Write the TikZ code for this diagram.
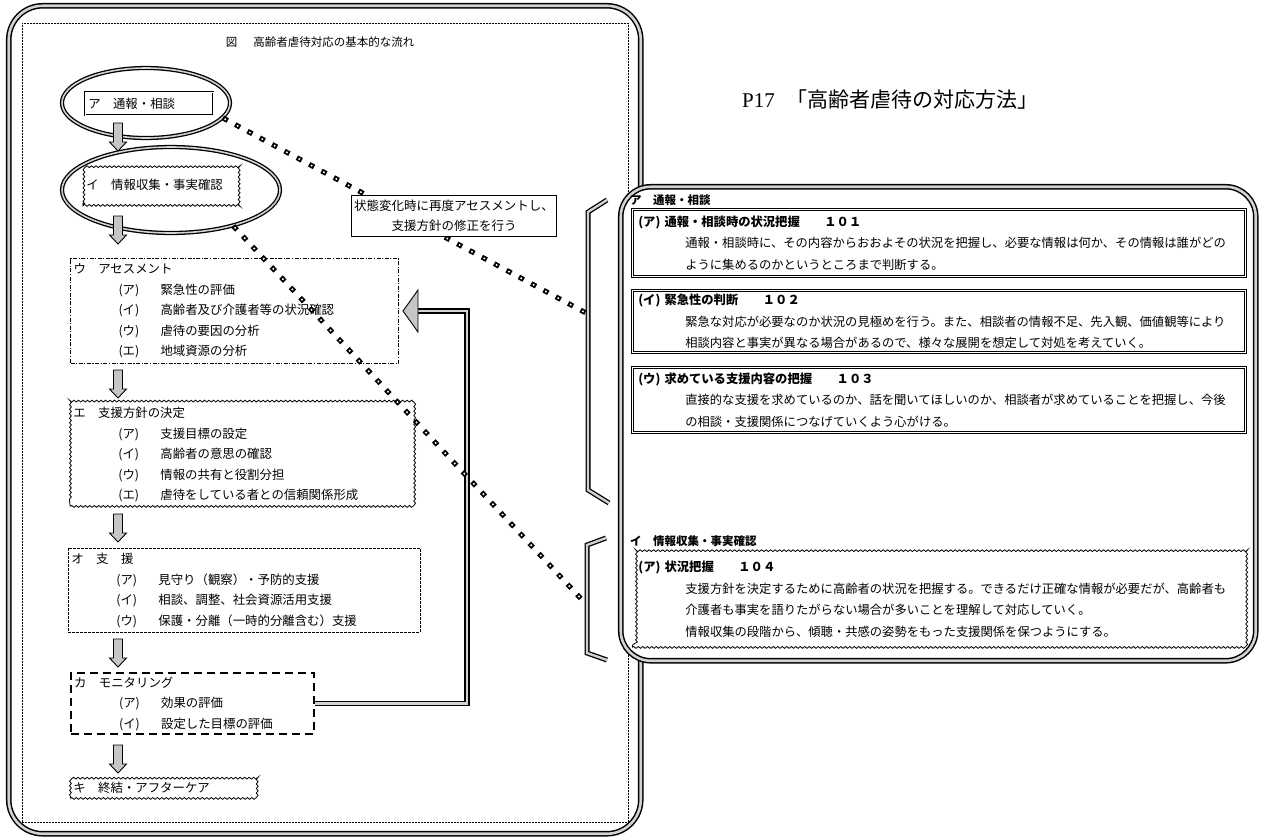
\documentclass[tikz,border=0pt]{standalone}
\usepackage{fontspec}
\setmainfont{Noto Sans CJK JP}
\newfontfamily\serifp{Liberation Serif}
\usetikzlibrary{shapes.geometric,decorations.pathmorphing,calc}
\newcommand\itm[2]{\hspace*{45pt}\makebox[42pt][l]{#1}#2}
\newcommand\bl[1]{\hspace*{47pt}#1}
\tikzset{
  frame/.style={draw,line width=1.5pt,double=gray!35,double distance=2.6pt,rounded corners=34pt,inner sep=0pt,anchor=north west},
  ell/.style={ellipse,draw,line width=1.3pt,double=gray!35,double distance=1.6pt,inner sep=0pt},
  lfont/.style={font=\fontsize{12.4}{20.5}\selectfont},
  lbox/.style={anchor=north west,inner xsep=3pt,inner ysep=0pt,align=left,lfont},
  wavy/.style={decorate,decoration={snake,amplitude=0.9pt,segment length=4.5pt}},
  darr/.pic={\filldraw[fill=gray!45,draw=black,line width=0.9pt]
     (-4.5,0) -- (4.5,0) -- (4.5,19) -- (8.5,19) -- (0,28) -- (-8.5,19) -- (-4.5,19) -- cycle;},
  conn/.style={line width=5pt,dash pattern=on 5.5pt off 8.5pt},
  connin/.style={line width=1.6pt,white,dash pattern=on 1.6pt off 12.4pt,dash phase=-1.95pt},
  bracel/.style={line width=1.3pt,double=gray!35,double distance=2.4pt,line join=miter},
  fbl/.style={line width=1.3pt,double=gray!35,double distance=2.8pt,line join=miter},
  rfont/.style={font=\fontsize{12.3}{21.5}\selectfont},
  rin/.style={anchor=north west,inner xsep=6pt,inner ysep=0pt,align=left,rfont,
     minimum width=613,text width=601},
  dbox/.style={draw,line width=0.6pt,double,double distance=1.3pt},
  hdr/.style={anchor=west,inner sep=0pt,font=\bfseries\fontsize{11.5}{14}\selectfont}
}
\begin{document}
\begin{tikzpicture}[x=1pt,y=-1pt]
\fill[white] (0,0) rectangle (1265,839);
\useasboundingbox (0,0) rectangle (1265,839);

% left frame
\node[frame,minimum width=632,minimum height=828] (lf) at (8,5) {};
\node[draw,dash pattern=on 2pt off 1pt,line width=0.5pt,minimum width=606,minimum height=799,anchor=north west,inner sep=0pt] (lin) at (22,23) {};
\node[font=\fontsize{11.5}{14}\selectfont] (ft) at (320,42) {図\hspace{16pt}高齢者虐待対応の基本的な流れ};

% ellipses and top boxes
\node[ell,minimum width=168,minimum height=70] (e1) at (146,103) {};
\node[lbox,dbox,line width=0.5pt,double distance=1pt,minimum width=128,minimum height=23,text width=122] (ba) at (85,92) {ア　通報・相談};
\pic at (118,123) {darr};
\node[ell,minimum width=218,minimum height=86] (e2) at (171,190) {};
\node[lbox,draw,line width=0.8pt,wavy,minimum width=155,minimum height=42,text width=149] (bi) at (83,163) {イ　情報収集・事実確認};
\pic at (118,216) {darr};

% flow boxes
\node[lbox,draw,line width=1pt,dash pattern=on 4pt off 1.5pt on 1.2pt off 1.5pt,minimum width=328,minimum height=105,text width=322] (u) at (70,258)
 {ウ　アセスメント\\\itm{(ア)}{緊急性の評価}\\\itm{(イ)}{高齢者及び介護者等の状況確認}\\\itm{(ウ)}{虐待の要因の分析}\\\itm{(エ)}{地域資源の分析}};
\pic at (118,370) {darr};
\node[lbox,draw,line width=0.8pt,wavy,minimum width=343,minimum height=103,text width=337] (eb) at (70,403)
 {エ　支援方針の決定\\\itm{(ア)}{支援目標の設定}\\\itm{(イ)}{高齢者の意思の確認}\\\itm{(ウ)}{情報の共有と役割分担}\\\itm{(エ)}{虐待をしている者との信頼関係形成}};
\pic at (118,514) {darr};
\node[lbox,draw,line width=0.8pt,dash pattern=on 3pt off 1pt,minimum width=352,minimum height=84,text width=346] (ob) at (68,548)
 {オ　支　援\\\itm{(ア)}{見守り（観察）・予防的支援}\\\itm{(イ)}{相談、調整、社会資源活用支援}\\\itm{(ウ)}{保護・分離（一時的分離含む）支援}};
\pic at (118,639) {darr};
\node[lbox,draw,line width=2.2pt,dash pattern=on 8pt off 5pt,minimum width=243,minimum height=61,text width=237] (ka) at (70,672)
 {カ　モニタリング\\\itm{(ア)}{効果の評価}\\\itm{(イ)}{設定した目標の評価}};
\pic at (118,745) {darr};
\node[lbox,draw,line width=0.8pt,wavy,minimum width=185,minimum height=21,text width=179] (ki) at (70,777) {キ　終結・アフターケア};

% feedback arrow
\coordinate (fbx) at (467,0);
\draw[fbl] (ka.east) -- (ka.east -| fbx) |- ([xshift=19pt]u.east);
\filldraw[fill=gray!45,line width=0.9pt] ([xshift=4pt]u.east) -- ++(15pt,21pt) -- ++(0,-42pt) -- cycle;

% right box
\node[frame,rounded corners=30pt,fill=white,minimum width=635,minimum height=474] (rb) at (620,186) {};
\node[anchor=west,font=\fontsize{21}{24}\selectfont,inner sep=0pt] (p17) at (742,100) {{\serifp P17}\hspace{12pt}「高齢者虐待の対応方法」};

\node[hdr] (ha) at (630,200) {ア　通報・相談};
\node[rin,dbox,minimum height=67] (r1) at (632,209)
 {\textbf{(ア) 通報・相談時の状況把握　　１０１}\\\bl{通報・相談時に、その内容からおおよその状況を把握し、必要な情報は何か、その情報は誰がどの}\\\bl{ように集めるのかというところまで判断する。}};
\node[rin,dbox,minimum height=62] (r2) at (632,290)
 {\textbf{(イ) 緊急性の判断　　１０２}\\\bl{緊急な対応が必要なのか状況の見極めを行う。また、相談者の情報不足、先入観、価値観等により}\\\bl{相談内容と事実が異なる場合があるので、様々な展開を想定して対処を考えていく。}};
\node[rin,dbox,minimum height=65] (r3) at (632,367)
 {\textbf{(ウ) 求めている支援内容の把握　　１０３}\\\bl{直接的な支援を求めているのか、話を聞いてほしいのか、相談者が求めていることを把握し、今後}\\\bl{の相談・支援関係につなげていくよう心がける。}};
\node[hdr] (hi) at (630,541) {イ　情報収集・事実確認};
\node[rin,draw,line width=0.8pt,wavy,minimum height=96] (r4) at (632,551)
 {\textbf{(ア) 状況把握　　１０４}\\\bl{支援方針を決定するために高齢者の状況を把握する。できるだけ正確な情報が必要だが、高齢者も}\\\bl{介護者も事実を語りたがらない場合が多いことを理解して対応していく。}\\\bl{情報収集の段階から、傾聴・共感の姿勢をもった支援関係を保つようにする。}};

% braces
\draw[bracel] (607,200) -- (588,212) -- (588,490) -- (609,503);
\draw[bracel] (606,538) -- (587,545) -- (587,653) -- (607,660);
\coordinate (t1) at (586,313);
\coordinate (t2) at (585,603);

% connectors
\draw[conn] (e1.-11) -- (t1);
\draw[connin] (e1.-11) -- (t1);
\draw[conn] (e2.-30) -- (t2);
\draw[connin] (e2.-30) -- (t2);
\node[draw,line width=0.7pt,fill=white,align=center,font=\fontsize{12.5}{20}\selectfont,minimum width=205,minimum height=41,inner sep=1pt] (co) at (454,216)
 {状態変化時に再度アセスメントし、\\支援方針の修正を行う};
\end{tikzpicture}
\end{document}
